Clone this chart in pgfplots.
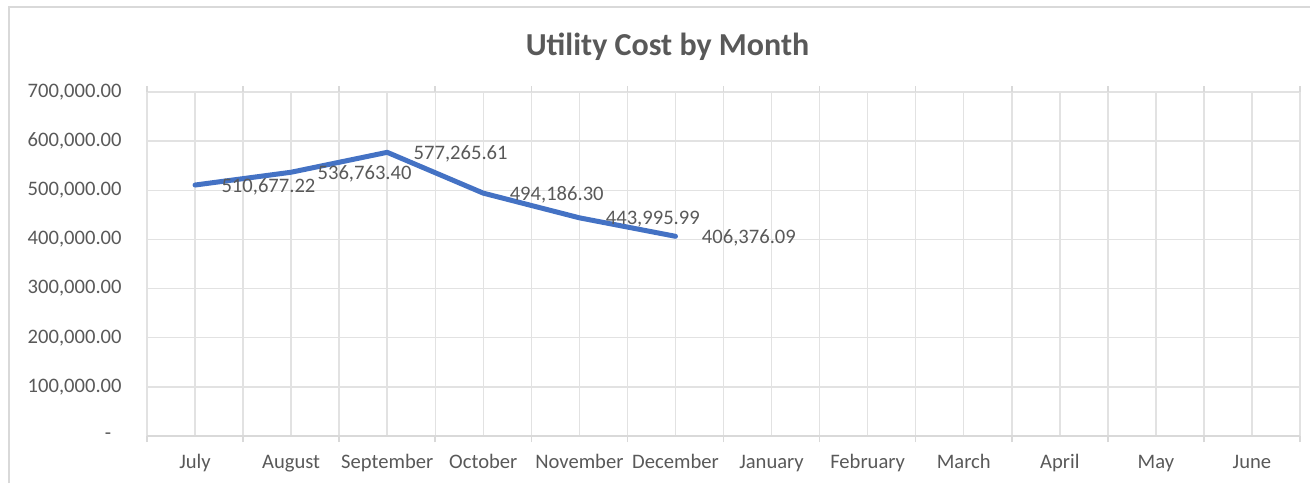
\documentclass[border=0pt]{standalone}
\usepackage{pgfplots}
\pgfplotsset{compat=1.18}
\usepackage{fontspec}
\setmainfont{Carlito}
\definecolor{txtgray}{HTML}{595959}
\definecolor{gridgray}{HTML}{E2E2E2}
\definecolor{axgray}{HTML}{D9D9D9}
\definecolor{xlblue}{HTML}{4472C4}
\begin{document}
\begin{tikzpicture}
\useasboundingbox (0,0) rectangle (655pt,-241.5pt);
\draw[axgray, line width=1pt] (4.25pt,-241.5pt) -- (4.25pt,-3.5pt) -- (655pt,-3.5pt);
\node[anchor=base, text=txtgray, font=\fontsize{16}{19}\selectfont\bfseries] at (333.75pt,-27.5pt) {Utility Cost by Month};
\begin{axis}[
  at={(73.5pt,-218pt)}, anchor=south west,
  scale only axis, width=576.5pt, height=172pt,
  xmin=-0.5, xmax=11.5, ymin=0, ymax=700000,
  scaled y ticks=false,
  axis line style={draw=none},
  extra description/.code={\draw[axgray, line width=0.8pt] (axis cs:-0.5,0) -- (axis cs:11.5,0);},
  xtick={0,...,11},
  xticklabels={July,August,September,October,November,December,January,February,March,April,May,June},
  minor xtick={-0.5,0.5,...,11.5},
  major tick length=0pt, minor tick length=3pt, tick align=outside,
  xtick style={draw=none},
  minor x tick style={draw=axgray, line width=0.8pt},
  ytick={0,100000,...,700000},
  yticklabels={{-\hphantom{0}},{100,000.00},{200,000.00},{300,000.00},{400,000.00},{500,000.00},{600,000.00},{700,000.00}},
  ytick style={draw=none},
  grid=both,
  major grid style={gridgray, line width=0.75pt},
  minor grid style={gridgray, line width=0.75pt},
  xticklabel style={anchor=base, inner sep=0pt, yshift=-16pt, text=txtgray, font=\fontsize{10.3}{12}\selectfont},
  yticklabel style={anchor=east, inner sep=0pt, xshift=-12.5pt, text=txtgray, font=\fontsize{10.3}{12}\selectfont},
  nodes near coords,
  point meta=explicit symbolic,
  nodes near coords style={anchor=west, inner sep=0pt, xshift=12pt, yshift=-0.8pt, text=txtgray, font=\fontsize{10.3}{12}\selectfont},
  clip=false,
]
\addplot[xlblue, line width=2.5pt, line join=round, line cap=round, mark=none] table[meta=label] {
x y label
0 510677.22 510,677.22
1 536763.40 536,763.40
2 577265.61 577,265.61
3 494186.30 494,186.30
4 443995.99 443,995.99
5 406376.09 406,376.09
};
\end{axis}
\end{tikzpicture}
\end{document}
